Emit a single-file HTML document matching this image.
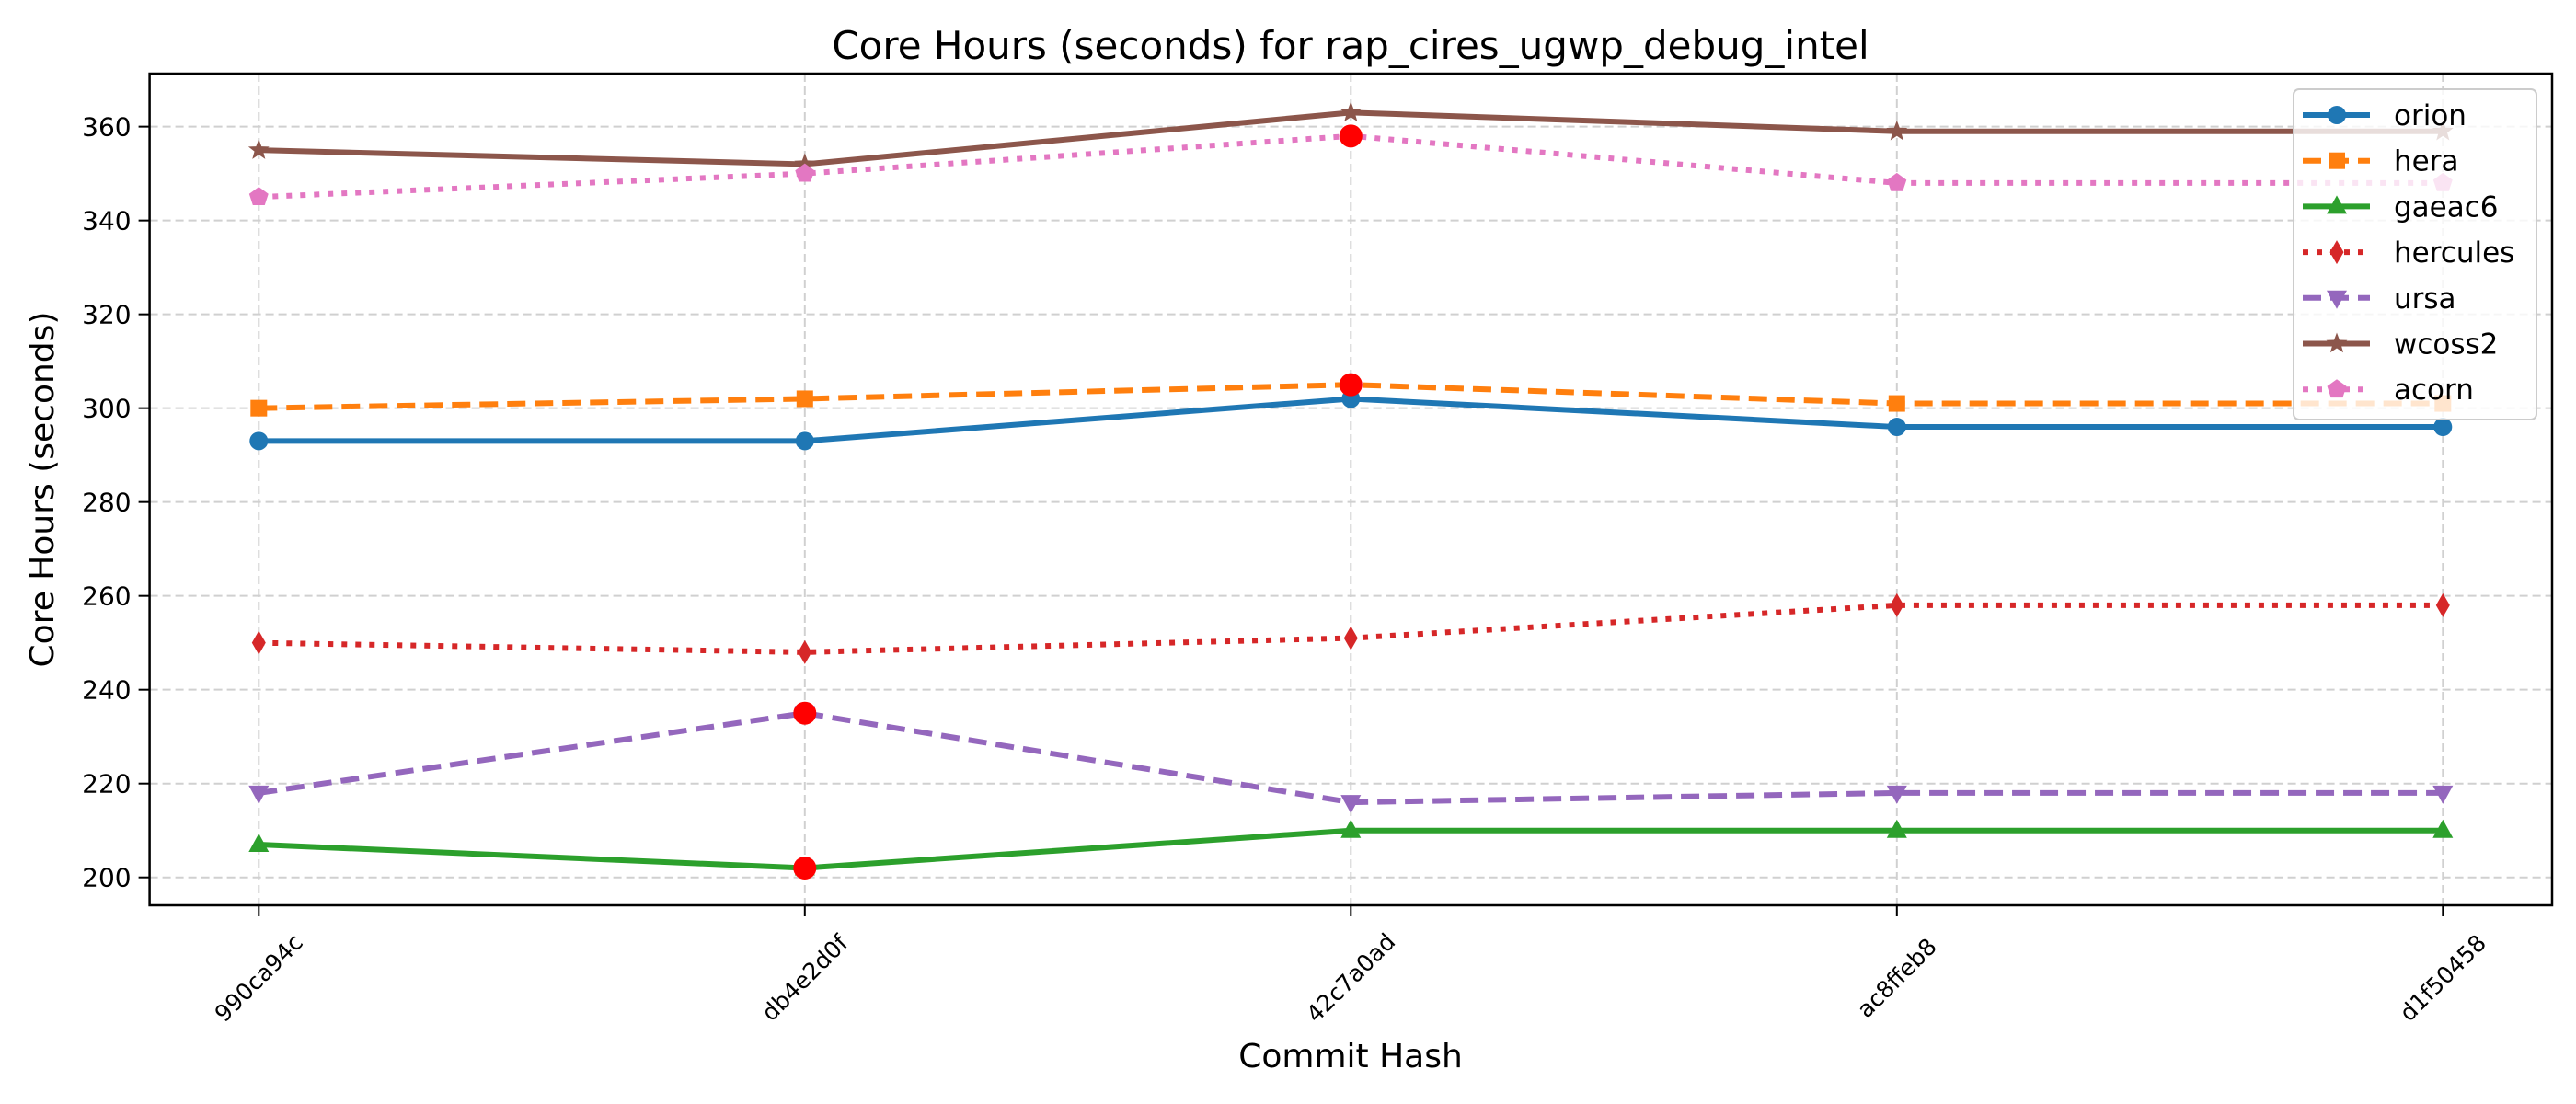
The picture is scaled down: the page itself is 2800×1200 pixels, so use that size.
<!DOCTYPE html>
<html><head><meta charset="utf-8"><style>
html,body{margin:0;padding:0;background:#fff;}
svg{display:block;font-family:"DejaVu Sans","Liberation Sans",sans-serif;}
</style></head><body>
<svg id="chart" width="2800" height="1200" viewBox="0 0 2800 1200" xmlns="http://www.w3.org/2000/svg">
<rect width="2800" height="1200" fill="#fff"/>
<g id="grid"></g>
<g id="series"></g>
<g id="axes"></g>
<text x="1468" y="64" font-size="42" text-anchor="middle">Core Hours (seconds) for rap_cires_ugwp_debug_intel</text>
<text x="0" y="0" font-size="36" text-anchor="middle" transform="translate(58,532) rotate(-90)">Core Hours (seconds)</text>
<text x="1468" y="1160" font-size="36" text-anchor="middle">Commit Hash</text>
<g id="legend"></g>
</svg>
<script>
const categories = ["990ca94c","db4e2d0f","42c7a0ad","ac8ffeb8","d1f50458"];
const seriesNames = ["orion","hera","gaeac6","hercules","ursa","wcoss2","acorn"];
const orion = [293,293,302,296,296];
const hera = [300,302,305,301,301];
const gaeac6 = [207,202,210,210,210];
const hercules = [250,248,251,258,258];
const ursa = [218,235,216,218,218];
const wcoss2 = [355,352,363,359,359];
const acorn = [345,350,358,348,348];
const yTicks = [200,220,240,260,280,300,320,340,360];
// highlighted points: [series, category index]
const highlights = [["hera",2],["acorn",2],["ursa",1],["gaeac6",1]];

const NS = "http://www.w3.org/2000/svg";
const L=162.6, R=2774, T=80, B=984;
const xMin=-0.2, xMax=4.2, yMin=194.06, yMax=371.3;
function xs(i){return L+(i-xMin)/(xMax-xMin)*(R-L);}
function ys(v){return B-(v-yMin)/(yMax-yMin)*(B-T);}
function mk(tag,attrs,parent){const e=document.createElementNS(NS,tag);for(const k in attrs)e.setAttribute(k,attrs[k]);parent.appendChild(e);return e;}

const dataMap={orion,hera,gaeac6,hercules,ursa,wcoss2,acorn};
const styles={
 orion:{c:"#1f77b4",d:"",m:"circle"},
 hera:{c:"#ff7f0e",d:"20 10",m:"square"},
 gaeac6:{c:"#2ca02c",d:"",m:"tri-up"},
 hercules:{c:"#d62728",d:"6 9",m:"thin-diamond"},
 ursa:{c:"#9467bd",d:"20 10",m:"tri-down"},
 wcoss2:{c:"#8c564b",d:"",m:"star"},
 acorn:{c:"#e377c2",d:"6 9",m:"pentagon"}
};
function marker(type,cx,cy,color,parent){
 let e;
 if(type==="circle"){e=mk("circle",{cx,cy,r:10,fill:color},parent);}
 else if(type==="square"){e=mk("rect",{x:cx-9,y:cy-9,width:18,height:18,fill:color},parent);}
 else{
  let pts=[];
  if(type==="tri-up")pts=[[0,-12],[11,8],[-11,8]];
  else if(type==="tri-down")pts=[[0,12],[11,-8],[-11,-8]];
  else if(type==="thin-diamond")pts=[[0,-13],[7.5,0],[0,13],[-7.5,0]];
  else if(type==="pentagon"){for(let k=0;k<5;k++){const a=-Math.PI/2+k*2*Math.PI/5;pts.push([11*Math.cos(a),11*Math.sin(a)]);}}
  else if(type==="star"){for(let k=0;k<10;k++){const a=-Math.PI/2+k*Math.PI/5;const r=k%2?5:12;pts.push([r*Math.cos(a),r*Math.sin(a)]);}}
  e=mk("polygon",{points:pts.map(p=>(cx+p[0])+","+(cy+p[1])).join(" "),fill:color},parent);
 }
 return e;
}

const grid=document.getElementById("grid");
yTicks.forEach(v=>{const g=mk("line",{x1:L,x2:R,y1:ys(v),y2:ys(v),stroke:"#d0d0d0","stroke-width":2,"stroke-dasharray":"9 5"},grid);
 
 });
categories.forEach((c,i)=>{const g=mk("line",{x1:xs(i),x2:xs(i),y1:T,y2:B,stroke:"#d0d0d0","stroke-width":2,"stroke-dasharray":"9 5"},grid);
 
 });

const sg=document.getElementById("series");
seriesNames.forEach(n=>{
 const s=styles[n], vals=dataMap[n];
 const g=mk("g",{},sg);
 
 
 const p=mk("polyline",{points:vals.map((v,i)=>xs(i)+","+ys(v)).join(" "),fill:"none",stroke:s.c,"stroke-width":6,"stroke-linejoin":"round"},g);
 if(s.d)p.setAttribute("stroke-dasharray",s.d);
 
 
 vals.forEach((v,i)=>{const m=marker(s.m,xs(i),ys(v),s.c,g);
  
  });
});
highlights.forEach(h=>{const v=dataMap[h[0]][h[1]];
 const c=mk("circle",{cx:xs(h[1]),cy:ys(v),r:12.5,fill:"#ff0000"},sg);
 
 });

const ax=document.getElementById("axes");
const frame=mk("rect",{x:L,y:T,width:R-L,height:B-T,fill:"none",stroke:"#000","stroke-width":2.5},ax);


yTicks.forEach(v=>{
 const t=mk("line",{x1:L-12,x2:L,y1:ys(v),y2:ys(v),stroke:"#000","stroke-width":2},ax);
 
 
 const tx=mk("text",{x:L-20,y:ys(v)+10,"font-size":28,"text-anchor":"end"},ax);
 tx.textContent=v;
 
 
});
categories.forEach((c,i)=>{
 const t=mk("line",{x1:xs(i),x2:xs(i),y1:B,y2:B+12,stroke:"#000","stroke-width":2},ax);
 
 
 const tx=mk("text",{x:0,y:0,"font-size":25,"text-anchor":"middle","dominant-baseline":"central",transform:"translate("+xs(i)+","+(B+79)+") rotate(-45)"},ax);
 tx.textContent=c;
 
 
});

const lg=document.getElementById("legend");
const box=mk("rect",{x:2493,y:97,width:264,height:359,rx:6,fill:"rgba(255,255,255,0.8)",stroke:"#cccccc","stroke-width":2},lg);


seriesNames.forEach((n,k)=>{
 const s=styles[n], y=125+k*49.7;
 const g=mk("g",{},lg);
 
 
 const l=mk("line",{x1:2503,x2:2576,y1:y,y2:y,stroke:s.c,"stroke-width":6},g);
 if(s.d)l.setAttribute("stroke-dasharray",s.d);
 marker(s.m,2540,y,s.c,g);
 const t=mk("text",{x:2602,y:y+11,"font-size":31},g);
 t.textContent=n;
});
</script>
</body></html>
